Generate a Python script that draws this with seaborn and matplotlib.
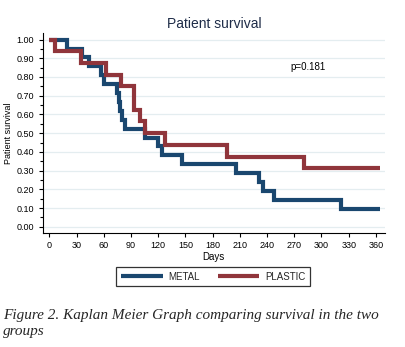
import matplotlib
matplotlib.use("Agg")
import matplotlib.pyplot as plt
import seaborn as sns
import pandas as pd
from matplotlib.ticker import MultipleLocator, FormatStrFormatter

# ---- data (Kaplan-Meier step points) ----
groups = ["METAL", "PLASTIC"]
metal_days = [0, 19, 36, 44, 57, 60, 75, 77, 78, 80, 83, 105, 120, 124, 146,
              206, 231, 235, 248, 321, 365]
metal_surv = [1.0, 0.952, 0.905, 0.857, 0.810, 0.762, 0.714, 0.667, 0.619,
              0.571, 0.524, 0.476, 0.429, 0.381, 0.333, 0.286, 0.238, 0.190,
              0.143, 0.095, 0.095]
plastic_days = [0, 6, 35, 62, 79, 93, 100, 106, 128, 196, 281, 365]
plastic_surv = [1.0, 0.9375, 0.875, 0.8125, 0.75, 0.625, 0.5625, 0.5, 0.4375,
                0.375, 0.3125, 0.3125]
x_ticks = list(range(0, 361, 30))
y_ticks = [i / 10 for i in range(11)]
title = "Patient survival"
p_text = "p=0.181"
caption1 = "Figure 2. Kaplan Meier Graph comparing survival in the two"
caption2 = "groups"

colors = ["#1a476f", "#90353b"]

df = pd.concat([
    pd.DataFrame({"Days": metal_days, "Survival": metal_surv, "Group": groups[0]}),
    pd.DataFrame({"Days": plastic_days, "Survival": plastic_surv, "Group": groups[1]}),
], ignore_index=True)

sns.set_theme(style="white")
plt.rcParams['font.family'] = ['Liberation Sans', 'DejaVu Sans']

fig = plt.figure(figsize=(4.05, 3.47), dpi=100)
W, H = 405, 347
ax = fig.add_axes([43.3 / W, 1 - 233.3 / H, (385 - 43.3) / W, 200.3 / H])

ax.set_xlim(-6.6, 370)
ax.set_ylim(-0.035, 1.035)

ax.yaxis.grid(True, which="major", color="#e4edf0", linewidth=0.9)
ax.xaxis.grid(False)
ax.set_axisbelow(True)

sns.lineplot(data=df, x="Days", y="Survival", hue="Group", palette=colors,
             drawstyle="steps-post", linewidth=3.0, estimator=None, sort=False,
             ax=ax, legend=True)

for l in ax.get_lines():
    l.set_solid_capstyle("butt")
    l.set_solid_joinstyle("miter")

ax.set_xticks(x_ticks)
ax.set_yticks(y_ticks)
ax.yaxis.set_major_formatter(FormatStrFormatter("%.2f"))
ax.yaxis.set_minor_locator(MultipleLocator(0.05))
ax.tick_params(axis="both", which="major", direction="out", length=3,
               width=0.8, color="black", labelsize=6.5, labelcolor="black")
ax.tick_params(axis="y", which="major", left=True, pad=3.5)
ax.tick_params(axis="x", which="major", bottom=True, pad=2.5)
ax.tick_params(axis="y", which="minor", left=True, direction="out", length=2,
               width=0.8, color="black")

for s in ["top", "right"]:
    ax.spines[s].set_visible(False)
for s in ["left", "bottom"]:
    ax.spines[s].set_color("black")
    ax.spines[s].set_linewidth(0.8)

ax.set_xlabel("Days", fontsize=7, color="black")
ax.xaxis.set_label_coords((213 - 43.3) / 341.7, -0.092)
ax.set_ylabel("Patient survival", fontsize=6.5, color="black")
ax.yaxis.set_label_coords(-0.088, 0.5)

ax.set_title(title, fontsize=10, color="#1e2c48", pad=3.4)
ax.text(266, 0.855, p_text, fontsize=7, ha="left", va="center", color="black")

sns.move_legend(ax, loc="center", bbox_to_anchor=((213.3 - 43.3) / 341.7, -(276.5 - 233.3) / 200.3),
                ncol=2, title=None, frameon=True, fontsize=7,
                handlelength=4.3, handletextpad=0.6, columnspacing=1.8,
                borderpad=0.5, fancybox=False)
leg = ax.get_legend()
leg.get_frame().set_edgecolor("black")
leg.get_frame().set_linewidth(0.9)
for h in leg.get_lines():
    h.set_linewidth(3.0)
    h.set_solid_capstyle("butt")

fig.text(3 / W, 1 - 319.3 / H, caption1, fontsize=11, style="italic",
         family=["Liberation Serif", "DejaVu Serif"], ha="left", va="baseline")
fig.text(3 / W, 1 - 335 / H, caption2, fontsize=11, style="italic",
         family=["Liberation Serif", "DejaVu Serif"], ha="left", va="baseline")

fig.savefig("out.png", dpi=100, facecolor="white")
